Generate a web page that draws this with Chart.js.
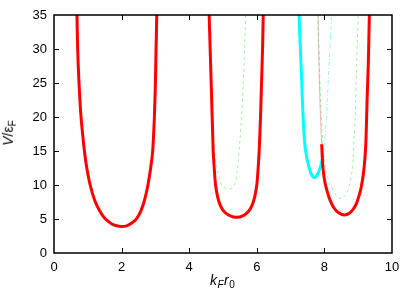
<!DOCTYPE html>
<html>
<head>
<meta charset="utf-8">
<script src="https://cdn.jsdelivr.net/npm/chart.js@4/dist/chart.umd.min.js"></script>
<style>
  html, body { margin: 0; padding: 0; background: #fff; }
  #wrap { position: relative; width: 415px; height: 290px; }
  #c { position: absolute; left: 0; top: 0; }
  .ttl { position: absolute; font-family: "Liberation Sans", Arial, sans-serif; font-size: 14px; color: #000; white-space: nowrap; }
  .ttl sub { font-size: 10px; vertical-align: -3px; font-style: normal; }
  #xt { left: 210px; top: 272px; letter-spacing: 0.5px; }
  #yt { left: -4px; top: 124px; transform: rotate(-90deg); transform-origin: 50% 50%; }
</style>
</head>
<body>
<div id="wrap">
  <canvas id="c" width="415" height="290"></canvas>
  <div class="ttl" id="xt"><i>k</i><sub><i>F</i></sub><i>r</i><sub>0</sub></div>
  <div class="ttl" id="yt"><i>V</i>/ε<sub>F</sub></div>
</div>
<script>
// Axis ticks
const xTicks = [0, 2, 4, 6, 8, 10];
const yTicks = [0, 5, 10, 15, 20, 25, 30, 35];

// Well 1 (thick red)
const well1X = [0.68,0.70,0.74,0.80,0.90,0.97,1.07,1.20,1.35,1.50,1.70,1.85,2.00,2.15,2.30,2.45,2.58,2.69,2.78,2.86,2.92,2.97,3.00,3.02,3.04];
const well1Y = [35,30,25,20,15,12.5,10,7.8,6.2,5.1,4.3,4.0,3.9,4.0,4.4,5.1,6.3,8,10,12.5,15,20,25,30,35];

// Well 2 (thick red)
const well2X = [4.59,4.62,4.65,4.68,4.71,4.74,4.78,4.84,4.92,5.03,5.20,5.40,5.60,5.75,5.86,5.94,6.00,6.04,6.07,6.11,6.14,6.17,6.19];
const well2Y = [35,30,25,20,15,12.5,10,8.3,7,6.1,5.5,5.25,5.5,6.1,7,8.3,10,12.5,15,20,25,30,35];

// Well 2 (thin dashed green)
const green2X = [4.60,4.64,4.68,4.72,4.77,4.84,4.96,5.06,5.16,5.27,5.36,5.42,5.46,5.50,5.55,5.60,5.64,5.67];
const green2Y = [35,28,22,17,14,12,10,9.6,9.4,9.6,10.3,12,14,16.5,20,25,30,35];

// Well 3 (thick cyan)
const cyanX = [7.25,7.29,7.33,7.37,7.42,7.48,7.55,7.63,7.72,7.82,7.90,7.96];
const cyanY = [35,30,25,20,16,14,12.5,11.4,11.1,11.8,13,14.3];

// Well 3 (thin dashed cyan continuation)
const cyanThinX = [7.96,8.00,8.06,8.11,8.16,8.21];
const cyanThinY = [14.3,16,20,25,30,35];

// Well 3 (thin red continuation)
const redThinX = [7.81,7.84,7.87,7.90,7.92];
const redThinY = [35,28,22,18,16];

// Well 3 (thick red)
const well3X = [7.92,7.95,7.98,8.02,8.07,8.15,8.26,8.40,8.59,8.75,8.86,8.95,9.03,9.09,9.15,9.20,9.23,9.26,9.30,9.33];
const well3Y = [16,13,11.5,10.3,9.3,8,6.8,6,5.6,5.9,6.5,7.3,8.5,9.7,11.5,14,16.6,22,28,35];

// Well 3 (thin dashed green)
const green3X = [7.81,7.85,7.89,7.93,7.97,8.02,8.07,8.15,8.26,8.36,8.46,8.58,8.66,8.71,8.77,8.81,8.85,8.88,8.91,8.95,9.00];
const green3Y = [35,28,22,18,15,13,11.7,10.2,9.2,8.4,8.0,8.3,8.9,9.3,10.5,11.7,14,17,20,27,35];

const pts = (xs, ys) => xs.map((x, i) => ({ x: x, y: ys[i] }));

const thick = (xs, ys, color) => ({
  data: pts(xs, ys), borderColor: color, borderWidth: 3, showLine: true,
  pointRadius: 0, tension: 0.3, fill: false, order: 0
});
const thin = (xs, ys, color, dash) => ({
  data: pts(xs, ys), borderColor: color, borderWidth: 1, showLine: true,
  pointRadius: 0, tension: 0.3, fill: false, borderDash: dash, order: 2
});

const frame = {
  id: 'frame',
  afterDraw(chart) {
    const { ctx, chartArea: a, scales } = chart;
    ctx.save();
    ctx.strokeStyle = '#000';
    ctx.lineWidth = 1;
    const L = 5;
    ctx.beginPath();
    xTicks.forEach(v => {
      const px = Math.round(scales.x.getPixelForValue(v)) + 0.5;
      if (v === 0 || v === 10) return;
      ctx.moveTo(px, a.bottom); ctx.lineTo(px, a.bottom - L);
      ctx.moveTo(px, a.top); ctx.lineTo(px, a.top + L);
    });
    yTicks.forEach(v => {
      const py = Math.round(scales.y.getPixelForValue(v)) + 0.5;
      if (v === 0 || v === 35) return;
      ctx.moveTo(a.left, py); ctx.lineTo(a.left + L, py);
      ctx.moveTo(a.right, py); ctx.lineTo(a.right - L, py);
    });
    ctx.stroke();
    ctx.lineWidth = 1.5;
    ctx.strokeRect(a.left, a.top, a.right - a.left, a.bottom - a.top);
    ctx.restore();
  }
};

new Chart(document.getElementById('c'), {
  type: 'scatter',
  data: {
    datasets: [
      thick(well1X, well1Y, '#ff0000'),
      thick(well2X, well2Y, '#ff0000'),
      thick(well3X, well3Y, '#ff0000'),
      thick(cyanX, cyanY, '#00ffff'),
      thin(green2X, green2Y, 'rgba(60,220,60,0.45)', [3, 3]),
      thin(green3X, green3Y, 'rgba(60,220,60,0.45)', [3, 3]),
      thin(redThinX, redThinY, 'rgba(230,110,110,0.5)', []),
      thin(cyanThinX, cyanThinY, 'rgba(0,230,230,0.4)', [4, 2, 1, 2])
    ]
  },
  options: {
    responsive: false,
    animation: false,
    layout: { padding: { left: 0, right: 23, top: 15, bottom: 0 } },
    plugins: { legend: { display: false }, tooltip: { enabled: false } },
    scales: {
      x: {
        type: 'linear', min: 0, max: 10,
        afterFit: s => { s.height = 37; },
        afterBuildTicks: s => { s.ticks = xTicks.map(v => ({ value: v })); },
        grid: { display: false, drawTicks: false },
        border: { display: false },
        ticks: { padding: 7, color: '#000', font: { family: 'Liberation Sans', size: 13 }, maxRotation: 0 }
      },
      y: {
        type: 'linear', min: 0, max: 35,
        afterFit: s => { s.width = 54; },
        afterBuildTicks: s => { s.ticks = yTicks.map(v => ({ value: v })); },
        grid: { display: false, drawTicks: false },
        border: { display: false },
        ticks: { padding: 7, color: '#000', font: { family: 'Liberation Sans', size: 13 } }
      }
    }
  },
  plugins: [frame]
});
</script>
</body>
</html>
